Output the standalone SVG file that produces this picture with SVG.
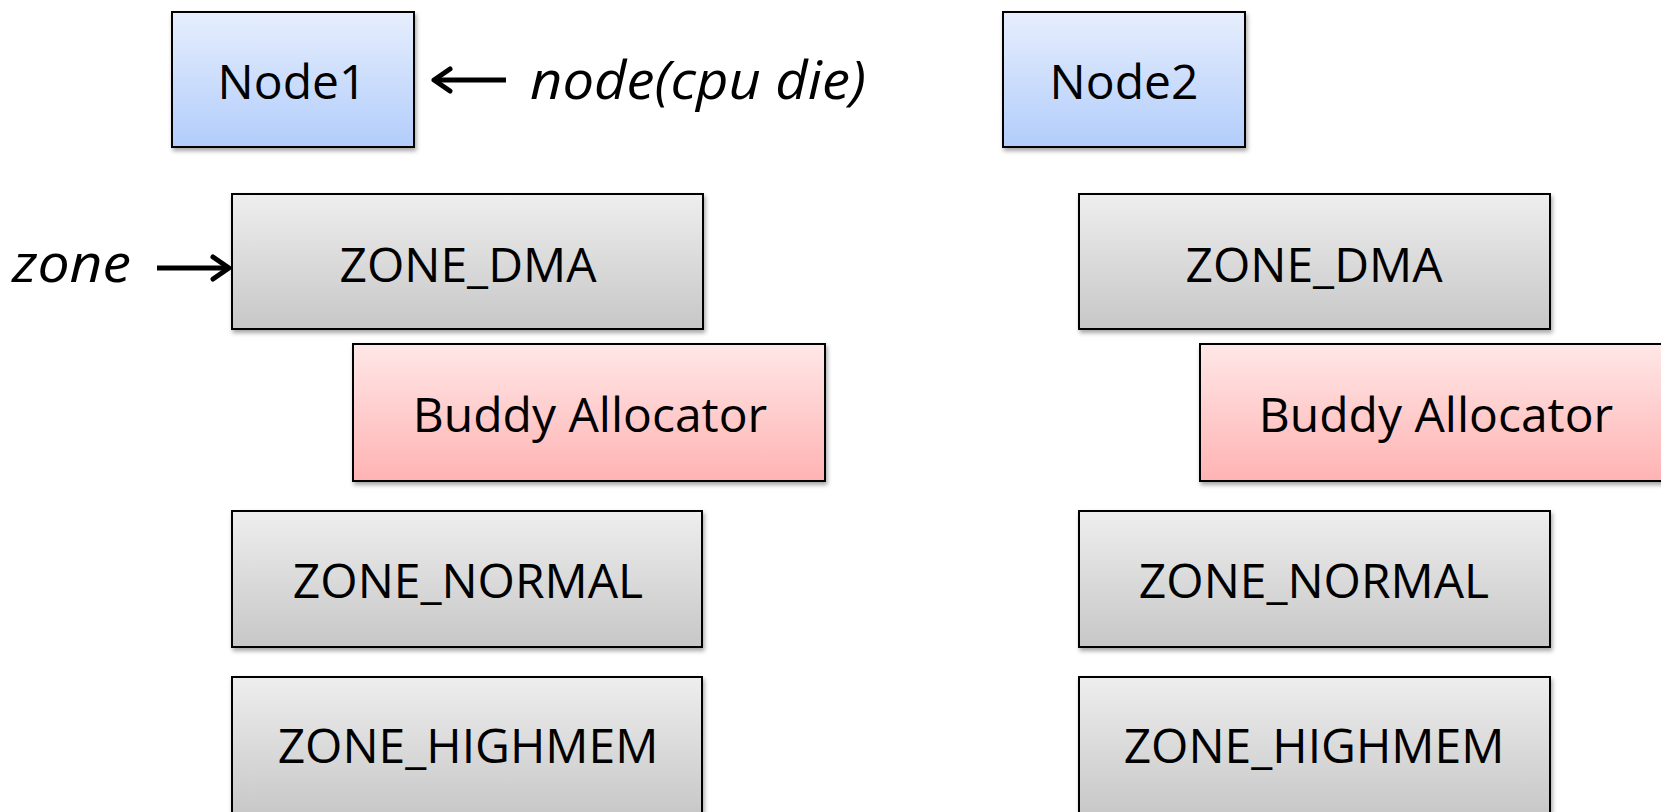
<svg xmlns="http://www.w3.org/2000/svg" width="1661" height="812" viewBox="0 0 1661 812">
<style>
.box{stroke:#000;stroke-width:2;filter:url(#sh)}
.lbl{font-family:"Open Sans","Noto Sans",sans-serif;font-size:48px;fill:#000;text-anchor:middle}
.it{font-family:"Open Sans","Noto Sans",sans-serif;font-size:53px;font-style:italic;fill:#000}
.arr{stroke:#000;stroke-width:5;fill:none}
</style>
<defs>
<linearGradient id="gBlue" x1="0" y1="0" x2="0" y2="1"><stop offset="0" stop-color="#e6eefd"/><stop offset="1" stop-color="#b2cdfb"/></linearGradient>
<linearGradient id="gGray" x1="0" y1="0" x2="0" y2="1"><stop offset="0" stop-color="#eeeeee"/><stop offset="1" stop-color="#c7c7c7"/></linearGradient>
<linearGradient id="gPink" x1="0" y1="0" x2="0" y2="1"><stop offset="0" stop-color="#ffe7e7"/><stop offset="1" stop-color="#ffb3b3"/></linearGradient>
<filter id="sh" x="-5%" y="-5%" width="115%" height="120%"><feDropShadow dx="1.5" dy="3" stdDeviation="2" flood-color="#000" flood-opacity="0.35"/></filter>
<marker id="head" viewBox="0 0 24 28" refX="21" refY="14" markerWidth="24" markerHeight="28" orient="auto" markerUnits="userSpaceOnUse"><path d="M5,3 L21,14 L5,25" fill="none" stroke="#000" stroke-width="5" stroke-linecap="round" stroke-linejoin="round"/></marker>
</defs>
<g id="node1"><rect class="box" x="172" y="12" width="242" height="135" fill="url(#gBlue)"/><text class="lbl" x="292" y="99">Node1</text></g>
<g id="node2"><rect class="box" x="1003" y="12" width="242" height="135" fill="url(#gBlue)"/><text class="lbl" x="1124" y="99">Node2</text></g>
<g id="l-zone-dma"><rect class="box" x="232" y="194" width="471" height="135" fill="url(#gGray)"/><text class="lbl" x="468" y="282">ZONE_DMA</text></g>
<g id="l-buddy"><rect class="box" x="353" y="344" width="472" height="137" fill="url(#gPink)"/><text class="lbl" x="590" y="432">Buddy Allocator</text></g>
<g id="l-zone-normal"><rect class="box" x="232" y="511" width="470" height="136" fill="url(#gGray)"/><text class="lbl" x="468" y="598">ZONE_NORMAL</text></g>
<g id="l-zone-highmem"><rect class="box" x="232" y="677" width="470" height="140" fill="url(#gGray)"/><text class="lbl" x="468" y="763">ZONE_HIGHMEM</text></g>
<g id="r-zone-dma"><rect class="box" x="1079" y="194" width="471" height="135" fill="url(#gGray)"/><text class="lbl" x="1314" y="282">ZONE_DMA</text></g>
<g id="r-buddy"><rect class="box" x="1200" y="344" width="472" height="137" fill="url(#gPink)"/><text class="lbl" x="1436" y="432">Buddy Allocator</text></g>
<g id="r-zone-normal"><rect class="box" x="1079" y="511" width="471" height="136" fill="url(#gGray)"/><text class="lbl" x="1314" y="598">ZONE_NORMAL</text></g>
<g id="r-zone-highmem"><rect class="box" x="1079" y="677" width="471" height="140" fill="url(#gGray)"/><text class="lbl" x="1314" y="763">ZONE_HIGHMEM</text></g>
<g id="label-node"><text class="it" x="530" y="99" textLength="336" lengthAdjust="spacingAndGlyphs">node(cpu die)</text></g>
<g id="label-zone"><text class="it" x="12" y="282" textLength="119" lengthAdjust="spacingAndGlyphs">zone</text></g>
<g id="connectors">
<line class="arr" x1="506" y1="80" x2="434" y2="80" marker-end="url(#head)"/>
<line class="arr" x1="157" y1="268" x2="229" y2="268" marker-end="url(#head)"/>
</g>
</svg>
